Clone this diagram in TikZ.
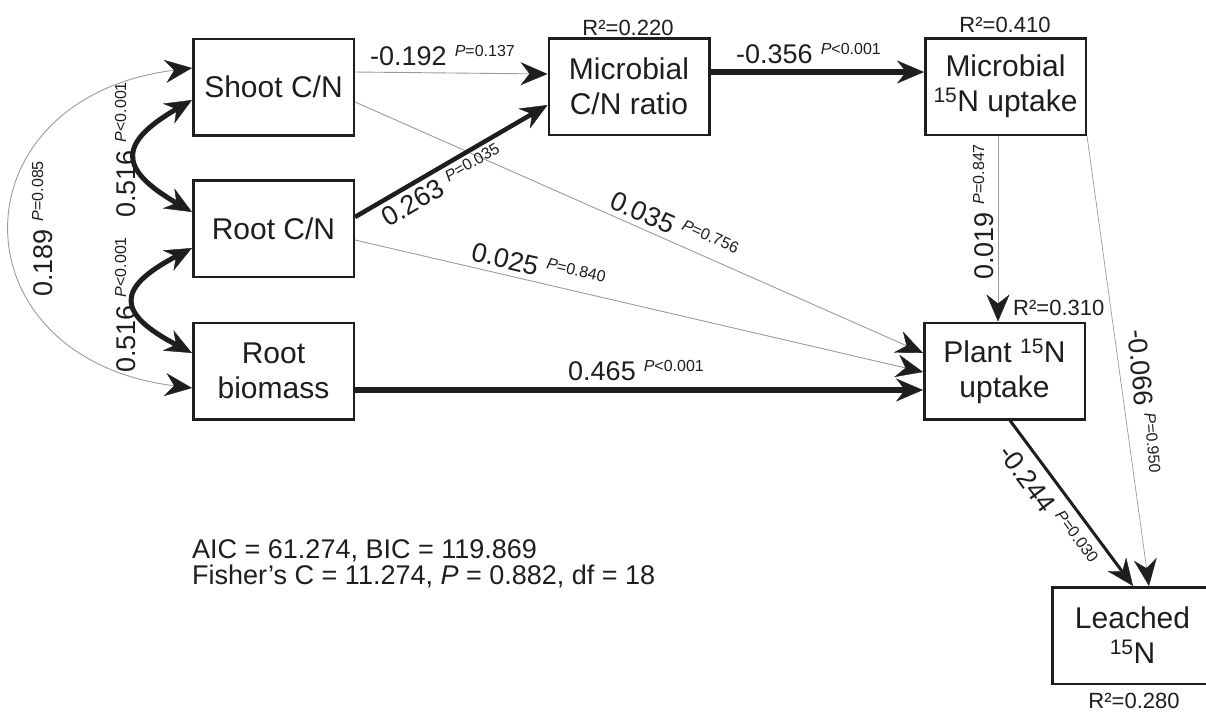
\documentclass[tikz,border=0pt]{standalone}
\usepackage{fontspec}
\setmainfont{Liberation Sans}
\usetikzlibrary{arrows.meta}
\definecolor{thinc}{RGB}{155,155,155}
\definecolor{ink}{RGB}{30,30,30}
\newcommand{\cf}[2]{{\fontsize{27}{30}\selectfont #1}\hspace{8pt}\raisebox{9pt}{\fontsize{16}{18}\selectfont\textit{P}#2}}
\begin{document}
\begin{tikzpicture}[x=1pt,y=1pt,
  box/.style={draw=ink, line width=2.5pt, minimum width=160.5pt, minimum height=96.5pt, inner sep=0pt, align=center, text=ink, font=\fontsize{30}{35}\selectfont},
  arw/.style={-{Stealth[length=27pt,width=23pt,inset=9pt,color=ink,line width=0.4pt]}},
  darw/.style={{Stealth[length=27pt,width=23pt,inset=9pt,color=ink,line width=0.4pt]}-{Stealth[length=27pt,width=23pt,inset=9pt,color=ink,line width=0.4pt]}},
  thinln/.style={draw=thinc, line width=0.9pt},
  lab/.style={inner sep=0pt, anchor=base west, text=ink},
  rsq/.style={inner sep=0pt, text=ink, font=\fontsize{22}{24}\selectfont},
  fitt/.style={inner sep=0pt, anchor=base west, text=ink, font=\fontsize{27}{29}\selectfont},
]
\useasboundingbox (0,0) rectangle (1206,-713);

% boxes
\node[box] (shoot) at (273.5,-87) {Shoot C/N};
\node[box] (rootcn) at (273.5,-228.5) {Root C/N};
\node[box] (rootbio) at (273.5,-371) {Root\\biomass};
\node[box] (microcn) at (629,-86.5) {Microbial\\C/N ratio};
\node[box] (micro15) at (1005.5,-86.5) {Microbial\\\textsuperscript{15}N uptake};
\node[box] (plant) at (1004.5,-371) {Plant \textsuperscript{15}N\\uptake};
\node[box] (leached) at (1132.5,-635.5) {Leached\\\textsuperscript{15}N};

% connectors
\draw[thinln, arw] ([yshift=15pt]shoot.east) -- ([yshift=12.5pt]microcn.west);
\draw[thinln, arw] ([yshift=-15pt]shoot.east) -- ([yshift=18pt]plant.west);
\draw[ink, line width=4.5pt, arw] ([yshift=11.5pt]rootcn.east) -- ([yshift=-18.5pt]microcn.west);
\draw[thinln, arw] ([yshift=-11.5pt]rootcn.east) -- ([yshift=-1pt]plant.west);
\draw[ink, line width=6pt, arw] ([yshift=-19pt]rootbio.east) -- ([yshift=-19pt]plant.west);
\draw[ink, line width=6pt, arw] ([yshift=14.5pt]microcn.east) -- ([yshift=14.5pt]micro15.west);
\draw[thinln, arw] ([xshift=-7.5pt]micro15.south) -- ([xshift=-6.5pt]plant.north);
\draw[thinln, line width=0.7pt, arw] (micro15.south east) -- ([xshift=16.5pt]leached.north);
\draw[ink, line width=3pt, arw] ([xshift=5.5pt]plant.south) -- ([xshift=0.5pt]leached.north);

% correlations
\draw[ink, line width=5pt, darw] ([yshift=-13pt]shoot.west) .. controls +(-74,-43) and +(-74,43) .. ([yshift=16.5pt]rootcn.west);
\draw[ink, line width=5pt, darw] ([yshift=-19.5pt]rootcn.west) .. controls +(-76,-40) and +(-76,40) .. ([yshift=18pt]rootbio.west);
\draw[thinln, darw] ([yshift=19pt]shoot.west) .. controls +(-240,-30) and +(-240,30) .. ([yshift=-17pt]rootbio.west);

% coefficient labels
\node[lab] (c1) at (370,-65) {\cf{-0.192}{=0.137}};
\node[lab] (c2) at (736,-63) {\cf{-0.356}{<0.001}};
\node[lab] (c3) at (568,-380) {\cf{0.465}{<0.001}};
\node[lab, rotate=30.3] (c4) at (388,-228) {\cf{0.263}{=0.035}};
\node[lab, rotate=-23.9] (c5) at (608,-207) {\cf{0.035}{=0.756}};
\node[lab, rotate=-13.1] (c6) at (470,-260.5) {\cf{0.025}{=0.840}};
\node[lab, rotate=90] (c7) at (993,-280) {\cf{0.019}{=0.847}};
\node[lab, rotate=-85] (c8) at (1128,-330) {\cf{-0.066}{=0.950}};
\node[lab, rotate=-53.5] (c9) at (997,-453) {\cf{-0.244}{=0.030}};
\node[lab, rotate=90] (c10) at (135,-218) {\cf{0.516}{<0.001}};
\node[lab, rotate=90] (c11) at (135,-373) {\cf{0.516}{<0.001}};
\node[lab, rotate=90] (c12) at (52,-297) {\cf{0.189}{=0.085}};

% R2 labels
\node[rsq, anchor=base] (r1) at (628,-35) {R²=0.220};
\node[rsq, anchor=base] (r2) at (1005,-32) {R²=0.410};
\node[rsq, anchor=base west] (r3) at (1013,-315) {R²=0.310};
\node[rsq, anchor=base] (r4) at (1134,-708) {R²=0.280};

% fit statistics
\node[fitt] (fit1) at (192,-558) {AIC = 61.274, BIC = 119.869};
\node[fitt] (fit2) at (192,-584) {Fisher’s C = 11.274, \textit{P} = 0.882, df = 18};
\end{tikzpicture}
\end{document}
